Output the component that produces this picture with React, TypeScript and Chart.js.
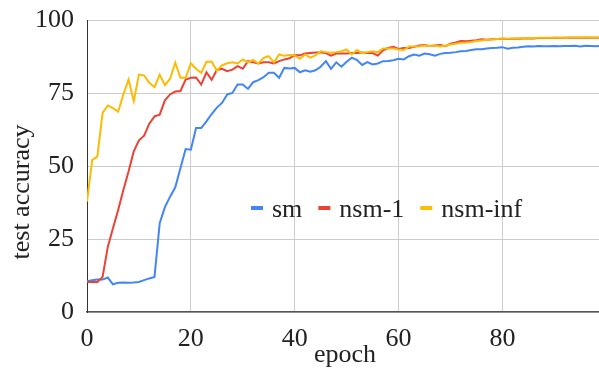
import React, { useEffect, useRef } from "react";
import { Chart, registerables } from "chart.js";

Chart.register(...registerables);

const epochs: number[] = Array.from({ length: 100 }, (_, i) => i);

const smValues: number[] = [
  10.5, 10.9, 11.1, 11.1, 11.8, 9.5, 10.0, 10.1, 10.0, 10.1,
  10.3, 10.9, 11.5, 12.0, 30.4, 35.9, 39.5, 42.7, 49.3, 55.8,
  55.6, 63.0, 63.0, 65.3, 67.8, 70.0, 71.6, 74.5, 75.0, 77.9,
  77.9, 76.4, 78.7, 79.4, 80.4, 81.9, 81.9, 80.2, 83.6, 83.4,
  83.6, 82.1, 82.8, 82.3, 82.8, 84.0, 85.9, 83.3, 85.5, 84.0,
  85.7, 87.1, 86.3, 84.6, 85.6, 84.8, 85.1, 85.9, 86.0, 86.2,
  86.7, 86.5, 87.6, 88.2, 87.8, 88.5, 88.3, 87.8, 88.4, 88.7,
  88.8, 89.0, 89.3, 89.4, 89.7, 90.0, 90.0, 90.2, 90.4, 90.5,
  90.7, 90.2, 90.5, 90.6, 90.8, 91.0, 90.9, 91.1, 91.0, 91.0,
  91.1, 91.0, 91.1, 91.1, 91.2, 90.9, 91.2, 91.1, 91.0, 91.1,
];

const nsm1Values: number[] = [
  10.3, 10.3, 10.3, 12.0, 22.3, 28.7, 34.9, 41.8, 48.1, 55.0,
  58.8, 60.4, 64.5, 67.0, 67.6, 72.5, 74.5, 75.5, 75.7, 79.6,
  80.2, 80.3, 77.9, 82.1, 79.5, 82.9, 83.3, 82.5, 83.0, 84.2,
  83.3, 85.9, 85.5, 85.1, 85.5, 85.5, 85.1, 85.9, 86.5, 86.9,
  88.0, 87.9, 88.5, 88.7, 88.9, 88.9, 88.7, 87.8, 88.5, 88.5,
  88.5, 88.7, 88.7, 88.9, 88.7, 88.7, 87.8, 89.6, 90.4, 90.8,
  90.1, 90.4, 90.4, 90.8, 91.3, 91.4, 91.1, 91.3, 91.4, 91.0,
  91.9, 92.3, 92.8, 92.7, 92.9, 93.1, 93.4, 93.2, 93.4, 93.5,
  93.6, 93.5, 93.6, 93.6, 93.7, 93.7, 93.7, 93.8, 93.8, 93.8,
  93.9, 93.8, 93.9, 93.9, 93.9, 93.9, 93.9, 93.9, 93.9, 93.9,
];

const nsmInfValues: number[] = [
  37.8, 52.0, 53.3, 68.2, 70.7, 69.8, 68.6, 74.5, 79.6, 72.2,
  81.3, 81.0, 78.5, 77.0, 81.3, 77.7, 79.9, 85.4, 80.2, 80.2,
  85.2, 83.3, 81.9, 85.7, 85.8, 82.7, 84.5, 85.2, 85.5, 85.1,
  86.5, 85.5, 86.3, 85.1, 87.0, 87.6, 85.5, 88.2, 87.8, 88.0,
  87.9, 86.7, 88.2, 87.1, 87.9, 89.3, 89.0, 88.8, 89.0, 89.3,
  89.9, 88.2, 89.7, 88.6, 89.0, 89.3, 89.0, 90.2, 90.2, 90.2,
  89.9, 89.7, 90.9, 90.9, 90.9, 91.3, 91.1, 91.3, 90.9, 91.2,
  91.6, 91.9, 92.2, 92.3, 92.5, 92.8, 93.0, 93.2, 93.3, 93.5,
  93.7, 93.6, 93.7, 93.7, 93.8, 93.7, 93.8, 93.9, 93.9, 93.9,
  93.9, 94.0, 93.9, 94.0, 94.0, 94.0, 94.1, 94.0, 94.0, 94.0,
];

const seriesNames: string[] = ["sm", "nsm-1", "nsm-inf"];
const seriesColors: string[] = ["#4285F4", "#EA4335", "#FBBC04"];
const xTickValues: number[] = [0, 20, 40, 60, 80];
const yTickValues: number[] = [0, 25, 50, 75, 100];
const xTitle = "epoch";
const yTitle = "test accuracy";

const FONT = "26px 'Liberation Serif', 'Times New Roman', serif";
const TEXT_COLOR = "#222";

const annotationPlugin = {
  id: "annotations",
  afterDraw(chart: any) {
    const ctx = chart.ctx as CanvasRenderingContext2D;
    const area = chart.chartArea;
    ctx.save();
    ctx.fillStyle = TEXT_COLOR;
    ctx.font = FONT;

    // y title
    ctx.save();
    ctx.translate(22, 192);
    ctx.rotate(-Math.PI / 2);
    ctx.textAlign = "center";
    ctx.textBaseline = "middle";
    ctx.fillText(yTitle, 0, 0);
    ctx.restore();

    // x title
    ctx.textAlign = "center";
    ctx.textBaseline = "alphabetic";
    ctx.fillText(xTitle, (area.left + area.right) / 2 + 2, 362);

    // legend
    let x = 251;
    const cy = 208;
    ctx.textAlign = "left";
    chart.data.datasets.forEach((ds: any) => {
      ctx.fillStyle = ds.borderColor;
      ctx.fillRect(x, cy - 2, 12, 4);
      x += 12 + 9;
      ctx.fillStyle = TEXT_COLOR;
      ctx.fillText(ds.label, x, 217);
      x += ctx.measureText(ds.label).width + 16;
    });
    ctx.restore();
  },
};

export default function App() {
  const canvasRef = useRef<HTMLCanvasElement | null>(null);

  useEffect(() => {
    document.body.style.margin = "0";
    const canvas = canvasRef.current;
    if (!canvas) return;
    const allValues = [smValues, nsm1Values, nsmInfValues];
    const chart = new Chart(canvas, {
      type: "line",
      data: {
        datasets: allValues.map((vals, i) => ({
          label: seriesNames[i],
          data: epochs.map((e, j) => ({ x: e, y: vals[j] })),
          borderColor: seriesColors[i],
          backgroundColor: seriesColors[i],
          borderWidth: 2,
          pointRadius: 0,
          tension: 0,
          fill: false,
          order: 3 - i,
        })),
      },
      options: {
        responsive: false,
        animation: false,
        devicePixelRatio: 1,
        layout: { padding: { top: 20, left: 0, right: 0, bottom: 0 } },
        plugins: {
          legend: { display: false },
          tooltip: { enabled: false },
          title: { display: false },
        },
        scales: {
          x: {
            type: "linear",
            min: 0,
            max: 98.6,
            afterBuildTicks: (scale: any) => {
              scale.ticks = xTickValues.map((v) => ({ value: v }));
            },
            afterFit: (scale: any) => {
              scale.height = 58;
              scale.paddingLeft = 0;
              scale.paddingRight = 0;
            },
            grid: { color: "#cccccc", drawTicks: false, lineWidth: 1 },
            border: { display: true, color: "#555555", width: 1.5 },
            ticks: {
              padding: 12,
              color: TEXT_COLOR,
              font: { family: "'Liberation Serif', 'Times New Roman', serif", size: 26 },
              maxRotation: 0,
            },
          },
          y: {
            min: 0,
            max: 100,
            afterBuildTicks: (scale: any) => {
              scale.ticks = yTickValues.map((v) => ({ value: v }));
            },
            afterFit: (scale: any) => {
              scale.width = 87;
              scale.paddingTop = 0;
              scale.paddingBottom = 0;
            },
            grid: { color: "#cccccc", drawTicks: false, lineWidth: 1 },
            border: { display: true, color: "#333333", width: 1 },
            ticks: {
              padding: 13,
              color: TEXT_COLOR,
              font: { family: "'Liberation Serif', 'Times New Roman', serif", size: 26 },
            },
          },
        },
      },
      plugins: [annotationPlugin],
    });
    return () => chart.destroy();
  }, []);

  return (
    <div style={{ width: 599, height: 370 }}>
      <canvas ref={canvasRef} width={599} height={370} style={{ display: "block" }} />
    </div>
  );
}
